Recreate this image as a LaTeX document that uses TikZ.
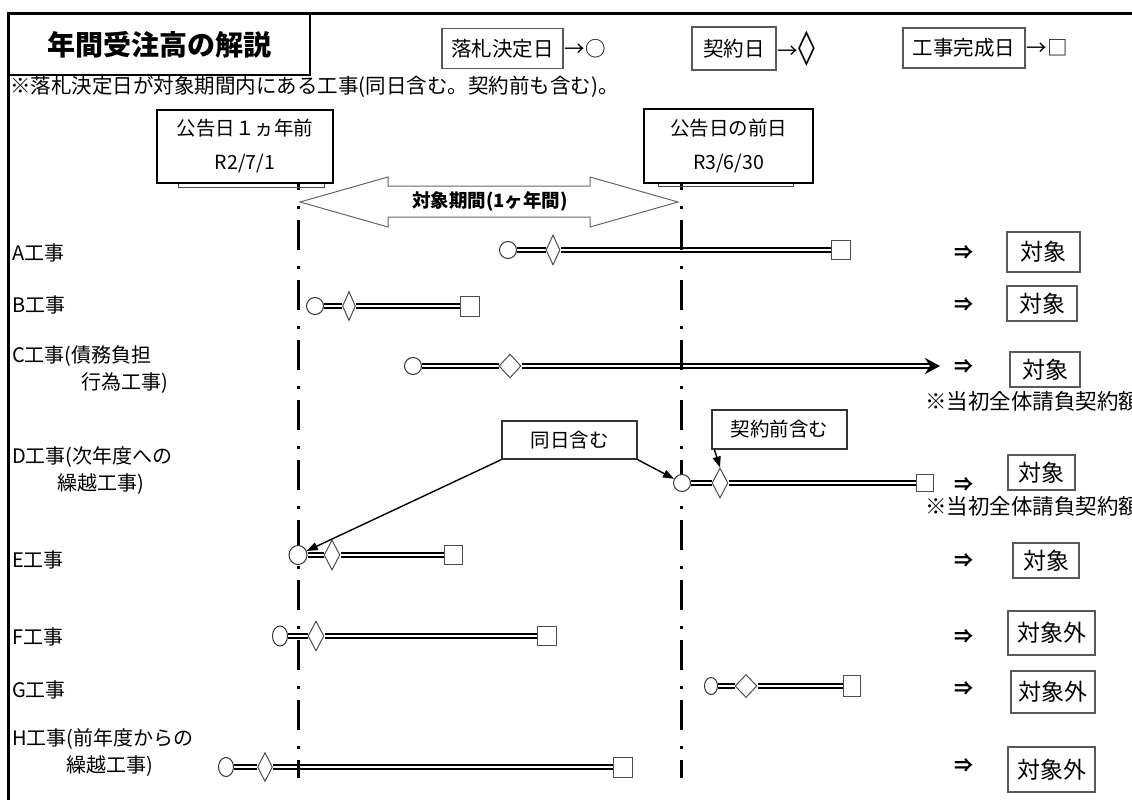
\documentclass[tikz,border=0pt]{standalone}
\usepackage{fontspec}
\setmainfont{Noto Sans CJK JP}
\newfontfamily\symfont{DejaVu Sans}
\usetikzlibrary{shapes.geometric,arrows.meta,backgrounds}
\tikzset{
  legbox/.style={draw=black!65,line width=1.3,minimum height=40,inner sep=0,font=\fontsize{20.5}{22}\selectfont},
  datebox/.style={draw,line width=2,fill=white,minimum width=172,minimum height=73,align=center,inner sep=0,font=\fontsize{19.5}{34}\selectfont},
  rowlabel/.style={anchor=west,align=left,inner sep=0,font=\fontsize{20}{27}\selectfont},
  resbox/.style={draw=black!65,line width=1.3,inner sep=0,font=\fontsize{23}{25}\selectfont},
  callbox/.style={draw=black!80,line width=1.2,fill=white,minimum width=135,minimum height=38,inner sep=0,font=\fontsize{19.5}{22}\selectfont},
  callarrow/.style={line width=1.4,-{Triangle[length=11pt,width=8pt]}},
  bidmark/.style={ellipse,draw=black!80,fill=white,line width=1,inner sep=0,minimum width=17,minimum height=17},
  signmark/.style={diamond,draw=black!70,fill=white,line width=1,inner sep=0,minimum width=15,minimum height=30},
  donemark/.style={rectangle,draw=black!70,fill=white,line width=1,inner sep=0,minimum width=19,minimum height=19},
  bar/.style={double,line width=1.8,double distance=1.5},
  periodline/.style={line width=3,dash pattern=on 30pt off 16pt on 2.5pt off 11.5pt},
  judge/.style={font=\bfseries\fontsize{19}{21}\selectfont},
}
\begin{document}
\begin{tikzpicture}[x=1pt,y=-1pt]
    \useasboundingbox (0,0) rectangle (1132,800);
    \clip (0,0) rectangle (1132,800);

    % 外枠
    \draw[line width=3] (8,820) -- (8,14) -- (1140,14);

    % タイトル
    \node[draw,line width=2.5,minimum width=302,minimum height=61,inner sep=0,font=\bfseries\fontsize{28}{30}\selectfont] (title) at (159,44.5) {年間受注高の解説};

    % 凡例
    \node[legbox,minimum width=121] (leg-bid) at (502.5,48.5) {落札決定日};
    \node[anchor=west,inner sep=0,font=\fontsize{20.5}{22}\selectfont] (leg-bid-sym) at ([xshift=1]leg-bid.east) {→○};
    \node[legbox,minimum width=84,minimum height=43] (leg-sign) at (734,48.5) {契約日};
    \node[anchor=west,inner sep=0,font=\fontsize{20.5}{22}\selectfont] (leg-sign-sym) at ([xshift=1]leg-sign.east) {→{\symfont\fontsize{34}{34}\selectfont ◊}};
    \node[legbox,minimum width=122] (leg-done) at (964,48) {工事完成日};
    \node[anchor=west,inner sep=0,font=\fontsize{20.5}{22}\selectfont] (leg-done-sym) at ([xshift=1]leg-done.east) {→□};

    \node[anchor=west,inner sep=0,font=\fontsize{20.5}{22}\selectfont] (note) at (10,87) {※落札決定日が対象期間内にある工事(同日含む。契約前も含む)。};

    % 公告日
    \draw[black!70,line width=0.8] (178,170) rectangle (324,187);
    \draw[black!70,line width=0.8] (658,170) rectangle (793,186);
    \node[datebox,minimum width=176] (from) at (245,146.5) {公告日１ヵ年前\\R2/7/1};
    \node[datebox,minimum width=169,minimum height=74] (to) at (728.5,146) {公告日の前日\\R3/6/30};

    % 対象期間
    \draw[black!60,line width=1,fill=white] (300,202) -- (388,177) -- (388,186) -- (590,186) -- (590,177) -- (678,202)
        -- (590,227) -- (590,217) -- (388,217) -- (388,227) -- cycle;
    \node[font=\bfseries\fontsize{18.5}{20}\selectfont] (period) at (490,201) {対象期間(1ヶ年間)};

    % 工事名
    \node[rowlabel] (lab-a) at (12,253) {A工事};
    \node[rowlabel] (lab-b) at (12,305) {B工事};
    \node[rowlabel] (lab-c) at (12,370) {C工事(債務負担\\\hspace*{69pt}行為工事)};
    \node[rowlabel] (lab-d) at (12,471) {D工事(次年度への\\\hspace*{45pt}繰越工事)};
    \node[rowlabel] (lab-e) at (12,560) {E工事};
    \node[rowlabel] (lab-f) at (12,637) {F工事};
    \node[rowlabel] (lab-g) at (12,690) {G工事};
    \node[rowlabel] (lab-h) at (12,753) {H工事(前年度からの\\\hspace*{54pt}繰越工事)};

    % 落札決定日・契約日・工事完成日
    \node[bidmark] (a-bid) at (508,250) {};
    \node[signmark,minimum width=14] (a-sign) at (553,250) {};
    \node[donemark] (a-done) at (841,250) {};

    \node[bidmark] (b-bid) at (315,306) {};
    \node[signmark,minimum width=13,minimum height=29] (b-sign) at (349,306) {};
    \node[donemark,minimum height=20] (b-done) at (470,306) {};

    \node[bidmark] (c-bid) at (413,366) {};
    \node[signmark,minimum width=22,minimum height=24] (c-sign) at (510,366) {};
    \coordinate (c-end) at (940,366);

    \node[bidmark] (d-bid) at (682,483) {};
    \node[signmark,minimum width=16] (d-sign) at (720,483) {};
    \node[donemark,minimum width=17,minimum height=17] (d-done) at (925,483) {};

    \node[bidmark,minimum width=18,minimum height=19] (e-bid) at (298,555) {};
    \node[signmark,minimum width=16] (e-sign) at (332,555) {};
    \node[donemark,minimum width=18] (e-done) at (453,555) {};

    \node[bidmark,minimum width=15,minimum height=20] (f-bid) at (280,636) {};
    \node[signmark,minimum width=16] (f-sign) at (316,636) {};
    \node[donemark] (f-done) at (547,636) {};

    \node[bidmark,minimum width=13,minimum height=17] (g-bid) at (711,686) {};
    \node[signmark,minimum width=22,minimum height=23] (g-sign) at (746,686) {};
    \node[donemark,minimum width=17,minimum height=21] (g-done) at (852,686) {};

    \node[bidmark,minimum width=15,minimum height=19] (h-bid) at (226,767) {};
    \node[signmark,minimum width=15,minimum height=29] (h-sign) at (265,767) {};
    \node[donemark,minimum height=20] (h-done) at (623,767) {};

    \coordinate (from-top) at (298,160);
    \coordinate (from-end) at (298,778);
    \coordinate (to-top) at (681,160);
    \coordinate (to-end) at (681,778);

    \begin{scope}[on background layer]
        % 工期
        \draw[bar] (a-bid) -- (a-sign) -- (a-done);
        \draw[bar] (b-bid) -- (b-sign) -- (b-done);
        \draw[bar,-{Stealth[length=15pt,width=16pt]}] (c-bid) -- (c-sign) -- (c-end);
        \draw[bar] (d-bid) -- (d-sign) -- (d-done);
        \draw[bar] (e-bid) -- (e-sign) -- (e-done);
        \draw[bar] (f-bid) -- (f-sign) -- (f-done);
        \draw[bar] (g-bid) -- (g-sign) -- (g-done);
        \draw[bar] (h-bid) -- (h-sign) -- (h-done);
        % 期間の境界
        \draw[periodline] (from-top) -- (from-end);
        \draw[periodline] (to-top) -- (to-end);
    \end{scope}

    % 吹き出し
    \node[callbox] (same) at (569.5,440) {同日含む};
    \node[callbox,minimum height=39] (pre) at (779.5,429.5) {契約前含む};
    \draw[callarrow] (same.south west) -- (e-bid);
    \draw[callarrow] (same.south east) -- (d-bid);
    \draw[callarrow] ([xshift=3]pre.south west) -- (d-sign.north);

    % 判定
    \node[judge] (to-a) at (964,253) {⇒};
    \node[judge] (to-b) at (964,305) {⇒};
    \node[judge] (to-c) at (964,367) {⇒};
    \node[judge] (to-d) at (964,485) {⇒};
    \node[judge] (to-e) at (964,561) {⇒};
    \node[judge] (to-f) at (964,637) {⇒};
    \node[judge] (to-g) at (964,689) {⇒};
    \node[judge] (to-h) at (964,766) {⇒};

    \node[resbox,minimum width=73,minimum height=40] (res-a) at (1043.5,252) {対象};
    \node[resbox,minimum width=70,minimum height=35] (res-b) at (1042,303.5) {対象};
    \node[resbox,minimum width=70,minimum height=35] (res-c) at (1045,369.5) {対象};
    \node[resbox,minimum width=67,minimum height=35] (res-d) at (1041.5,472.5) {対象};
    \node[resbox,minimum width=66,minimum height=35] (res-e) at (1046,560.5) {対象};
    \node[resbox,minimum width=87,minimum height=44] (res-f) at (1051.5,633) {対象外};
    \node[resbox,minimum width=84,minimum height=42] (res-g) at (1053,692) {対象外};
    \node[resbox,minimum width=87,minimum height=45] (res-h) at (1051.5,769.5) {対象外};

    \node[anchor=west,inner sep=0,font=\fontsize{21.5}{23}\selectfont] (note-c) at (925,401) {※当初全体請負契約額};
    \node[anchor=west,inner sep=0,font=\fontsize{21.5}{23}\selectfont] (note-d) at (925,506) {※当初全体請負契約額};

\end{tikzpicture}
\end{document}
